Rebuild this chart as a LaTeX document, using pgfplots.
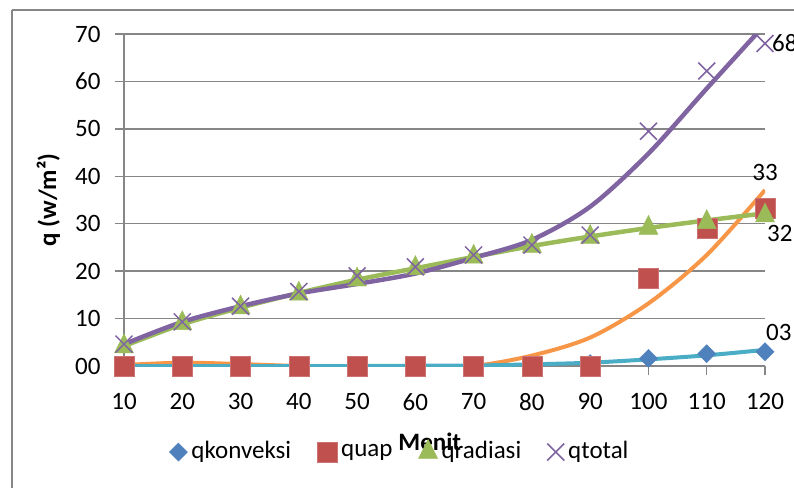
\documentclass[border=0pt]{standalone}
\usepackage{pgfplots}
\pgfplotsset{compat=1.18}
\usepackage{fontspec}
\setmainfont{Carlito}

\definecolor{cblue}{HTML}{4F81BD}
\definecolor{cred}{HTML}{C0504D}
\definecolor{cgreen}{HTML}{9BBB59}
\definecolor{cpurple}{HTML}{8064A2}
\definecolor{ccyan}{HTML}{4BACC6}
\definecolor{corange}{HTML}{F79646}
\definecolor{ggray}{HTML}{868686}

\begin{document}
\fontsize{25}{29}\selectfont
\begin{tikzpicture}[x=1pt,y=1pt]
    \useasboundingbox (0,0) rectangle (794,487);
    % chart area border (runs off the page right and bottom)
    \draw[ggray, line width=1.2pt] (12,477) -- (810,477);
    \draw[ggray, line width=1.2pt] (12,477) -- (12,-10);
    \begin{axis}[
        at={(124pt,121pt)},
        anchor=south west,
        scale only axis,
        width=641pt,
        height=332pt,
        xmin=10, xmax=120,
        ymin=0, ymax=70,
        xtick={10,20,...,120},
        ytick={0,10,...,70},
        yticklabels={00,10,20,30,40,50,60,70},
        /pgf/number format/assume math mode=true,
        axis x line*=bottom,
        axis y line*=left,
        axis line style={ggray, line width=1.3pt, -},
        tick align=outside,
        major tick length=9pt,
        tick style={ggray, line width=1.3pt},
        ymajorgrids=true,
        grid style={ggray, line width=1.3pt},
        ticklabel style={font=\fontsize{25}{29}\selectfont},
        xticklabel style={yshift=-10pt},
        yticklabel style={xshift=-6pt},
        ylabel={\bfseries q (w/m²)},
        ylabel style={font=\fontsize{25}{29}\selectfont, at={(axis description cs:-0.118,0.5)}, anchor=center, rotate=0},
        xlabel={\bfseries Menit},
        xlabel style={font=\fontsize{25}{29}\selectfont, at={(axis description cs:0.477,-0.227)}, anchor=center},
        legend columns=-1,
        legend style={
            at={(axis description cs:0.432,-0.259)},
            anchor=center,
            draw=none, fill=none,
            font=\fontsize{25}{29}\selectfont,
            /tikz/every even column/.append style={column sep=22pt},
            nodes={inner xsep=4pt},
        },
        legend cell align=left,
    ]
    % data points
    \addplot[only marks, mark=square*, mark size=6.4pt, mark options={rotate=45, fill=cblue, draw=cblue}]
        coordinates {(10,0)(20,0)(30,0)(40,0)(50,0)(60,0)(70,0.1)(80,0.2)(90,0.5)(100,1.6)(110,2.6)(120,3.0)};
    \addplot[only marks, mark=square*, mark size=10pt, mark options={fill=cred, draw=cred!80!white}]
        coordinates {(10,0)(20,0)(30,0)(40,0)(50,0)(60,0)(70,0)(80,0)(90,0)(100,18.5)(110,29.0)(120,33.2)};
    \addplot[only marks, mark=triangle*, mark size=11pt, mark options={yscale=1.15, fill=cgreen, draw=cgreen}]
        coordinates {(10,4.1)(20,9.0)(30,12.3)(40,15.2)(50,18.2)(60,20.6)(70,23.0)(80,25.3)(90,27.2)(100,29.1)(110,30.3)(120,31.7)};
    \addplot[only marks, mark=x, mark size=12pt, mark options={draw=cpurple, line width=1.5pt}]
        coordinates {(10,4.6)(20,9.3)(30,12.6)(40,15.7)(50,19.0)(60,20.9)(70,23.4)(80,25.5)(90,27.6)(100,49.5)(110,62.2)(120,68.0)};
    \legend{qkonveksi, quap, qradiasi, qtotal}

    % trendlines
    \addplot[forget plot, smooth, no marks, corange, line width=4pt]
        coordinates {(10,0.2)(20,0.7)(30,0.4)(40,0)(50,-0.2)(60,-0.2)(70,0)(80,2.2)(90,6.0)(100,13.2)(110,23.4)(120,37.1)};
    \addplot[forget plot, smooth, no marks, ccyan, line width=4pt]
        coordinates {(10,0)(20,0)(30,0)(40,0)(50,0)(60,0.05)(70,0.1)(80,0.35)(90,0.7)(100,1.4)(110,2.25)(120,3.4)};
    \addplot[forget plot, smooth, no marks, cgreen, line width=4.5pt]
        coordinates {(10,4.2)(20,8.8)(30,12.3)(40,15.4)(50,18.2)(60,20.6)(70,23.0)(80,25.3)(90,27.3)(100,29.1)(110,30.7)(120,32.2)};
    \addplot[forget plot, smooth, no marks, cpurple, line width=4.5pt]
        coordinates {(10,4.6)(20,9.3)(30,12.6)(40,15.3)(50,17.3)(60,19.5)(70,22.8)(80,26.6)(90,33.6)(100,44.8)(110,58.5)(120,72.0)};

    \coordinate (l68) at (axis cs:120,68.0);
    \coordinate (l33) at (axis cs:120,33.2);
    \coordinate (l32) at (axis cs:120,31.7);
    \coordinate (l03) at (axis cs:120,3.0);
    \end{axis}
    % data labels
    \node[anchor=west, inner sep=0pt, xshift=7pt] at (l68) {68};
    \node[anchor=center, inner sep=0pt, yshift=36pt] at (l33) {33};
    \node[anchor=west, inner sep=0pt, xshift=2pt, yshift=-18pt] at (l32) {32};
    \node[anchor=west, inner sep=0pt, xshift=1pt, yshift=19pt] at (l03) {03};
\end{tikzpicture}
\end{document}
